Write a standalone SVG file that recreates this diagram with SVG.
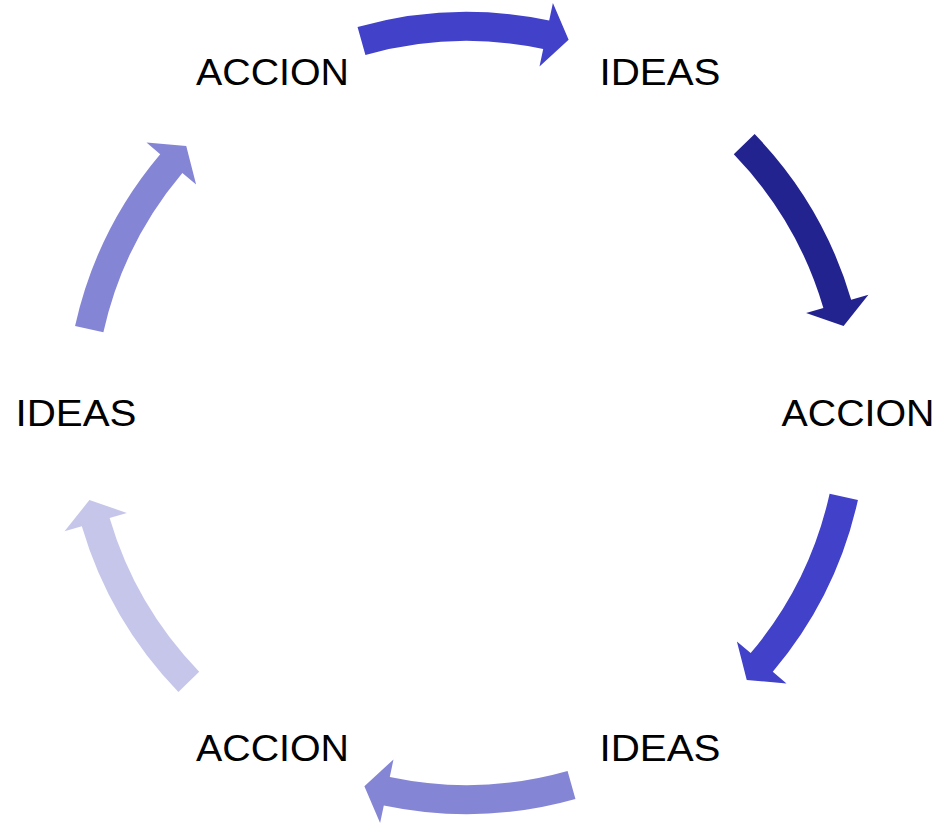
<svg xmlns="http://www.w3.org/2000/svg" xmlns:xlink="http://www.w3.org/1999/xlink" width="936" height="826" viewBox="0 0 936 826">
<style>
.lbl{font-family:"Liberation Sans",Arial,sans-serif;font-size:36px;fill:#000;text-anchor:middle}
</style>
<defs>
<path id="arc" d="M385.91,-108.95 A401,401 0 0 1 392.38,82.69 L409.99,86.40 L373.28,102.12 L346.39,72.99 L364.01,76.71 A372,372 0 0 0 357.99,-101.07 Z"/>
</defs>
<rect width="936" height="826" fill="#fff"/>
<g id="connectors">
<use xlink:href="#arc" href="#arc" transform="translate(466.5,413) rotate(-90)" fill="#4141C9"/>
<use xlink:href="#arc" href="#arc" transform="translate(466.5,413) rotate(-28.3)" fill="#232390"/>
<use xlink:href="#arc" href="#arc" transform="translate(466.5,413) rotate(28.3)" fill="#4141C9"/>
<use xlink:href="#arc" href="#arc" transform="translate(466.5,413) rotate(90)" fill="#8585D6"/>
<use xlink:href="#arc" href="#arc" transform="translate(466.5,413) rotate(151.7)" fill="#C6C6EA"/>
<use xlink:href="#arc" href="#arc" transform="translate(466.5,413) rotate(208.3)" fill="#8585D6"/>
</g>
<g id="node-accion-top"><text class="lbl" x="272.5" y="85" textLength="153" lengthAdjust="spacingAndGlyphs">ACCION</text></g>
<g id="node-ideas-top"><text class="lbl" x="660" y="85" textLength="121" lengthAdjust="spacingAndGlyphs">IDEAS</text></g>
<g id="node-accion-right"><text class="lbl" x="858" y="425.5" textLength="153" lengthAdjust="spacingAndGlyphs">ACCION</text></g>
<g id="node-ideas-bottom"><text class="lbl" x="660" y="760.5" textLength="121" lengthAdjust="spacingAndGlyphs">IDEAS</text></g>
<g id="node-accion-bottom"><text class="lbl" x="272.5" y="760.5" textLength="153" lengthAdjust="spacingAndGlyphs">ACCION</text></g>
<g id="node-ideas-left"><text class="lbl" x="76" y="425.5" textLength="121" lengthAdjust="spacingAndGlyphs">IDEAS</text></g>
</svg>
